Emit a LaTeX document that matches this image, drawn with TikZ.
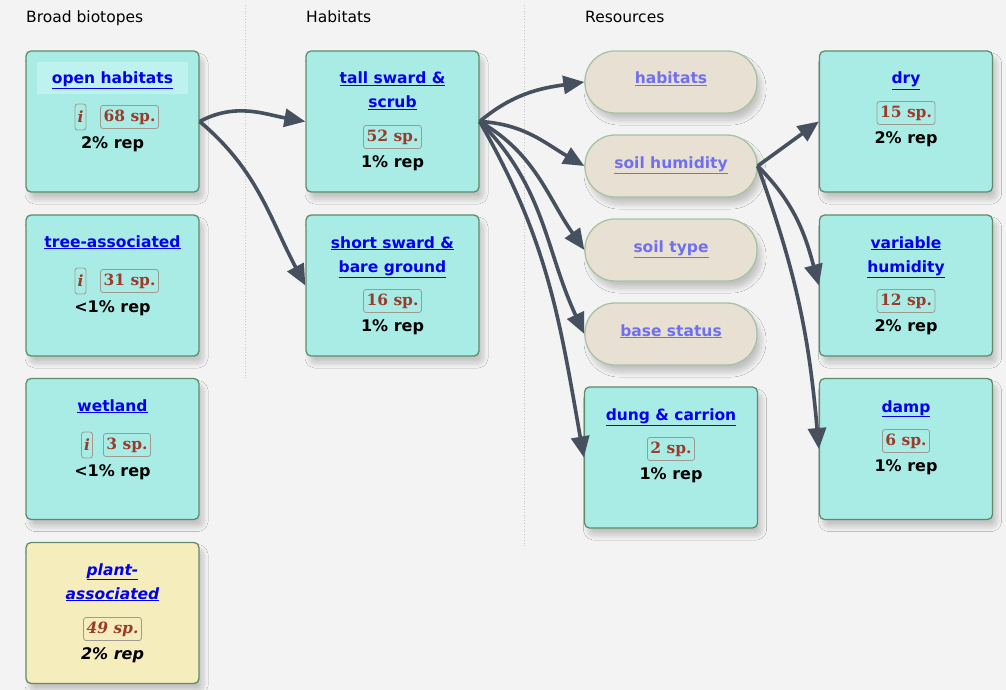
\documentclass[tikz,border=0pt]{standalone}
\usepackage{fontspec}
\setmainfont{DejaVu Sans}
\newfontfamily\serifb{DejaVu Serif}
\usetikzlibrary{shadows.blur,arrows.meta}
\definecolor{bgc}{HTML}{F3F3F3}
\definecolor{cyanf}{HTML}{A9ECE6}
\definecolor{cyanhl}{HTML}{BDF2EE}
\definecolor{yelf}{HTML}{F5EDBB}
\definecolor{bord}{HTML}{5E8C6A}
\definecolor{pillf}{HTML}{E8E0D3}
\definecolor{pillb}{HTML}{A7C2A2}
\definecolor{linkb}{HTML}{0000EE}
\definecolor{linkp}{HTML}{7070EE}
\definecolor{spc}{HTML}{9A3B2B}
\definecolor{spb}{HTML}{9E9A90}
\definecolor{arr}{HTML}{46505E}
\definecolor{divc}{HTML}{C8C8C8}
\tikzset{
  shd/.style={blur shadow={shadow xshift=4pt,shadow yshift=-7pt,shadow blur radius=5pt,shadow blur steps=10,shadow opacity=20}},
  cbox/.style={draw=bord,line width=1.3pt,fill=cyanf,rounded corners=5pt,minimum width=173pt,minimum height=141pt,inner sep=0pt,shd},
  ybox/.style={cbox,fill=yelf},
  pill/.style={draw=pillb,line width=1.3pt,fill=pillf,rounded corners=30pt,minimum width=172pt,minimum height=62pt,inner sep=0pt,shd},
  ttl/.style={font=\fontsize{15.5}{24}\selectfont\bfseries,text=linkb,align=center,inner sep=0pt,anchor=base},
  pttl/.style={ttl,text=linkp},
  hdr/.style={font=\fontsize{15.5}{18}\selectfont,anchor=base west,inner sep=0pt},
  sp/.style={draw=spb,line width=0.8pt,rounded corners=2.5pt,text=spc,font=\serifb\fontsize{15.5}{17}\selectfont\bfseries,inner xsep=3pt,minimum height=23pt,inner ysep=0pt},
  ib/.style={sp,font=\serifb\fontsize{15.5}{17}\selectfont\bfseries\itshape,minimum height=26pt,inner xsep=2.5pt},
  rep/.style={font=\fontsize{16}{18}\selectfont\bfseries,anchor=base,inner sep=0pt},
  conn/.style={draw=arr,line width=3.6pt,-{Triangle[length=21pt,width=18pt]}},
  dv/.style={draw=divc,line width=0.8pt,dotted}
}
\begin{document}
\begin{tikzpicture}[x=1pt,y=-1pt]
\fill[bgc] (0,0) rectangle (1006,690);
\useasboundingbox (0,0) rectangle (1006,690);
% dividers
\draw[dv] (245,5) -- (245,378);
\draw[dv] (524,5) -- (524,548);
% headers
\node[hdr] (h1) at (26,23) {Broad biotopes};
\node[hdr] (h2) at (306,23) {Habitats};
\node[hdr] (h3) at (585,23) {Resources};
% column 1
\node[cbox] (oh) at (112.5,121.5) {};
\fill[cyanhl] (37,62) rectangle (188,94);
\node[ttl] (ohT) at (112.5,84) {\underline{open habitats}};
\node[ib] (ohI) at (80.5,117) {i};
\node[sp] (ohS) at (129.5,117) {68 sp.};
\node[rep] (ohR) at (112.5,149) {2\% rep};

\node[cbox] (ta) at (112.5,285.5) {};
\node[ttl] (taT) at (112.5,247) {\underline{tree-associated}};
\node[ib] (taI) at (80.5,281) {i};
\node[sp] (taS) at (129.5,281) {31 sp.};
\node[rep] (taR) at (112.5,312) {<1\% rep};

\node[cbox] (wl) at (112.5,449) {};
\node[ttl] (wlT) at (112.5,411) {\underline{wetland}};
\node[ib] (wlI) at (87,445) {i};
\node[sp] (wlS) at (127,445) {3 sp.};
\node[rep] (wlR) at (112.5,476) {<1\% rep};

\node[ybox] (pa) at (112.5,613) {};
\node[ttl,font=\fontsize{15.5}{24}\selectfont\bfseries\itshape] (paT) at (112.5,599) {\underline{plant-}\\\underline{associated}};
\node[sp,font=\serifb\fontsize{15.5}{17}\selectfont\bfseries\itshape] (paS) at (112.5,629) {49 sp.};
\node[rep,font=\fontsize{16}{18}\selectfont\bfseries\itshape] (paR) at (112.5,659) {2\% rep};
% column 2
\node[cbox] (ts) at (392.5,121.5) {};
\node[ttl] (tsT) at (392.5,108) {\underline{tall sward \&}\\\underline{scrub}};
\node[sp] (tsS) at (392.5,137) {52 sp.};
\node[rep] (tsR) at (392.5,167) {1\% rep};

\node[cbox] (ss) at (392.5,285.5) {};
\node[ttl] (ssT) at (392.5,272) {\underline{short sward \&}\\\underline{bare ground}};
\node[sp] (ssS) at (392.5,301) {16 sp.};
\node[rep] (ssR) at (392.5,331) {1\% rep};
% column 3
\node[pill] (hb) at (671,82) {};
\node[pttl] (hbT) at (671,84) {\underline{habitats}};
\node[pill] (sh) at (671,166) {};
\node[pttl] (shT) at (671,168) {\underline{soil humidity}};
\node[pill] (st) at (671,250) {};
\node[pttl] (stT) at (671,252) {\underline{soil type}};
\node[pill] (bs) at (671,334) {};
\node[pttl] (bsT) at (671,336) {\underline{base status}};

\node[cbox] (dc) at (671,457.5) {};
\node[ttl] (dcT) at (671,420) {\underline{dung \& carrion}};
\node[sp] (dcS) at (671,449) {2 sp.};
\node[rep] (dcR) at (671,479) {1\% rep};
% column 4
\node[cbox] (dr) at (906,121.5) {};
\node[ttl] (drT) at (906,84) {\underline{dry}};
\node[sp] (drS) at (906,113) {15 sp.};
\node[rep] (drR) at (906,143) {2\% rep};

\node[cbox] (vh) at (906,285.5) {};
\node[ttl] (vhT) at (906,272) {\underline{variable}\\\underline{humidity}};
\node[sp] (vhS) at (906,301) {12 sp.};
\node[rep] (vhR) at (906,331) {2\% rep};

\node[cbox] (dp) at (906,449) {};
\node[ttl] (dpT) at (906,412) {\underline{damp}};
\node[sp] (dpS) at (906,441) {6 sp.};
\node[rep] (dpR) at (906,471) {1\% rep};
% connectors
\draw[conn] (oh.east) to[out=28,in=170] (ts.west);
\draw[conn] (oh.east) to[out=-40,in=118] (ss.west);
\draw[conn] (ts.east) to[out=40,in=188] (hb.west);
\draw[conn] (ts.east) to[out=-3,in=150] (sh.west);
\draw[conn] (ts.east) to[out=-30,in=125] (st.west);
\draw[conn] (ts.east) to[out=-45,in=115] (bs.west);
\draw[conn] (ts.east) to[out=-60,in=100] (dc.west);
\draw[conn] (sh.east) -- (dr.west);
\draw[conn] (sh.east) to[out=-45,in=105] (vh.west);
\draw[conn] (sh.east) to[out=-70,in=95] (dp.west);
\end{tikzpicture}
\end{document}
